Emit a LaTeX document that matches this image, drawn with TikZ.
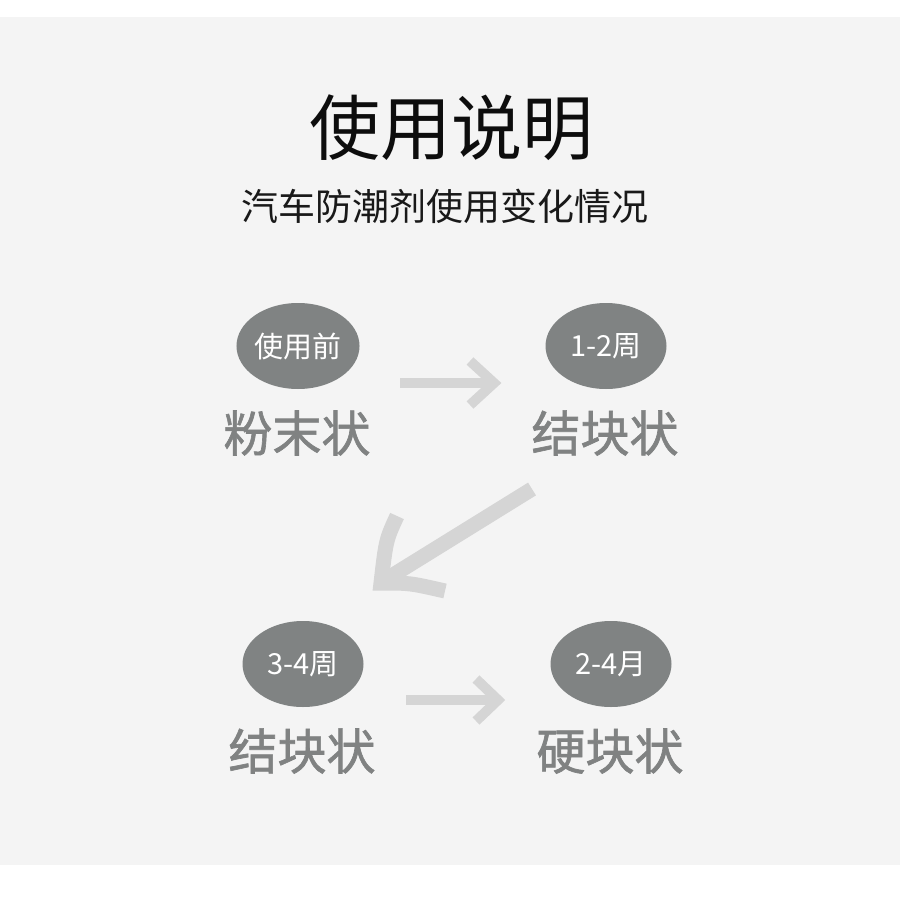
\documentclass[tikz,border=0pt]{standalone}
\usepackage{fontspec}
\newfontfamily\cjk{Noto Sans CJK SC}
\newfontfamily\cjkb[FakeBold=1.3]{Noto Sans CJK SC}
\definecolor{bggray}{HTML}{F4F4F4}
\definecolor{ovalgray}{RGB}{128,131,131}
\definecolor{labelgray}{RGB}{128,130,130}
\definecolor{arrowgray}{HTML}{D5D5D5}
\tikzset{
  oval/.style={ellipse, fill=ovalgray, minimum width=121pt, minimum height=86pt, inner sep=0pt,
    text=white, font=\cjk\fontsize{29}{29}\selectfont},
  statelabel/.style={inner sep=0pt, text=labelgray, font=\cjkb\fontsize{49}{49}\selectfont},
  shaft/.style={draw=arrowgray, line width=10pt},
  bigshaft/.style={draw=arrowgray, line width=15pt},
}
\usetikzlibrary{shapes.geometric}
\begin{document}
\begin{tikzpicture}[x=1pt,y=-1pt]
\useasboundingbox (0,0) rectangle (900,904);
\fill[white] (0,0) rectangle (900,904);
\fill[bggray] (0,17) rectangle (900,865);
\node[inner sep=0pt, font=\cjk\fontsize{71}{71}\selectfont, text=black!95] (title) at (451,128) {使用说明};
\node[inner sep=0pt, font=\cjk\fontsize{37}{37}\selectfont, text=black!90] (sub) at (445,206) {汽车防潮剂使用变化情况};
\node[oval] (o1) at (298,346) {使用前};
\node[oval] (o2) at (606,346) {1-2周};
\node[oval] (o3) at (303,664) {3-4周};
\node[oval] (o4) at (611,664) {2-4月};
\node[statelabel] (l1) at (297,433) {粉末状};
\node[statelabel] (l2) at (605,433) {结块状};
\node[statelabel] (l3) at (302,751) {结块状};
\node[statelabel] (l4) at (610,751) {硬块状};
% arrow 1
\coordinate (a1s) at (400,383);
\coordinate (a1e) at (494,383);
\draw[shaft] (a1s) -- (a1e);
\draw[shaft, miter limit=10] (470,361) -- (a1e) -- (470,405);
% diagonal arrow
\coordinate (d1s) at (532,489);
\coordinate (d1e) at (385,580);
\draw[bigshaft] (d1s) -- (d1e);
\draw[bigshaft, line join=miter, miter limit=10] (397,516) .. controls (386,540) .. (381,583) .. controls (410,583) .. (445,591);
% arrow 2
\coordinate (a2s) at (406,700);
\coordinate (a2e) at (498,700);
\draw[shaft] (a2s) -- (a2e);
\draw[shaft, miter limit=10] (476,679) -- (a2e) -- (476,721);
\end{tikzpicture}
\end{document}
